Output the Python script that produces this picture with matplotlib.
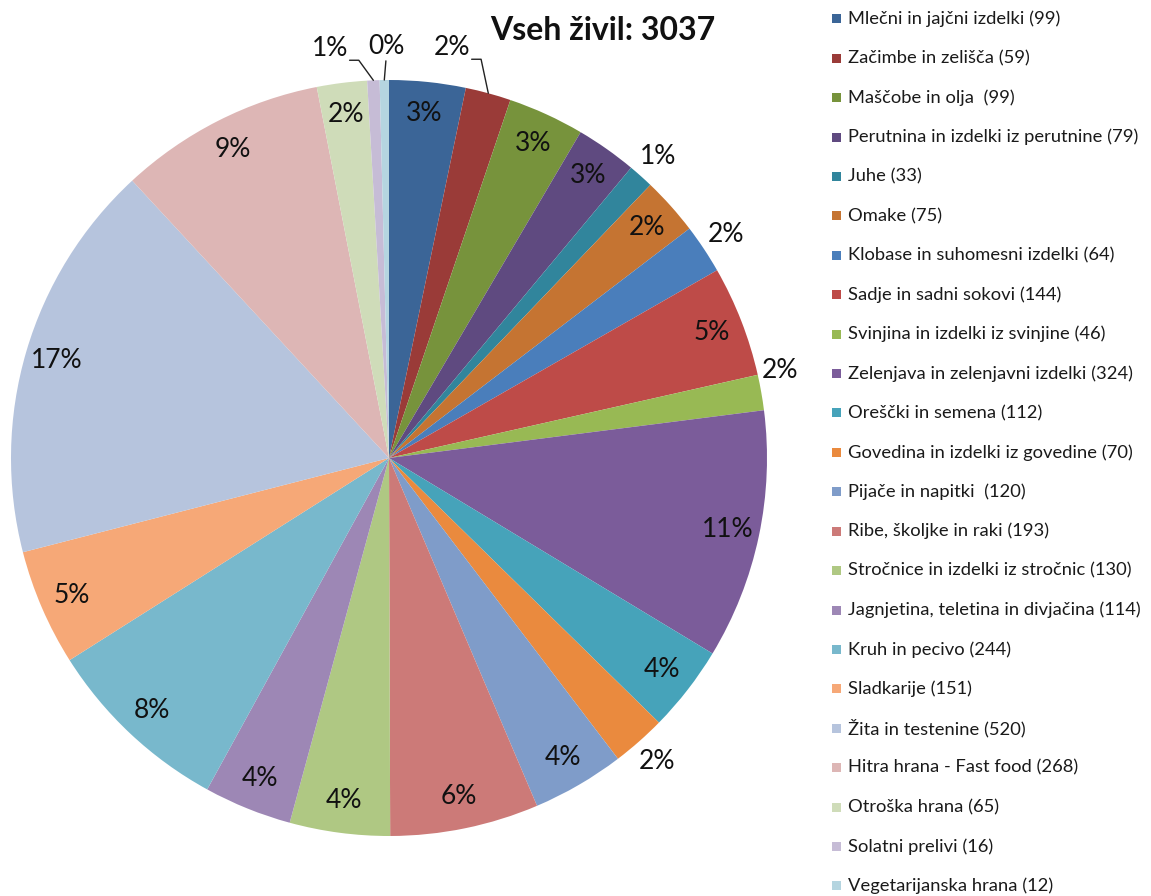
import matplotlib.pyplot as plt
from matplotlib.patches import Rectangle
import numpy as np

plt.rcParams['font.family'] = ['Lato', 'DejaVu Sans']

# food groups and number of foods in each
names = ['Mlečni in jajčni izdelki', 'Začimbe in zelišča', 'Maščobe in olja ',
         'Perutnina in izdelki iz perutnine', 'Juhe', 'Omake',
         'Klobase in suhomesni izdelki', 'Sadje in sadni sokovi',
         'Svinjina in izdelki iz svinjine', 'Zelenjava in zelenjavni izdelki',
         'Oreščki in semena', 'Govedina in izdelki iz govedine',
         'Pijače in napitki ', 'Ribe, školjke in raki',
         'Stročnice in izdelki iz stročnic', 'Jagnjetina, teletina in divjačina',
         'Kruh in pecivo', 'Sladkarije', 'Žita in testenine',
         'Hitra hrana - Fast food', 'Otroška hrana', 'Solatni prelivi',
         'Vegetarijanska hrana']
counts = [99, 59, 99, 79, 33, 75, 64, 144, 46, 324, 112, 70, 120, 193, 130,
          114, 244, 151, 520, 268, 65, 16, 12]
colors = ['#3B6597', '#9A3B38', '#77933C', '#5F4A80', '#31859C', '#C57432',
          '#4A7EBB', '#BE4B48', '#98B954', '#7B5C9A', '#46A3BA', '#EA8A3E',
          '#7F9CC9', '#CC7A78', '#AFC883', '#9D87B5', '#78B8CC', '#F6A877',
          '#B6C4DD', '#DDB6B5', '#CFDCB9', '#C6BCD6', '#B5D5E0']

total = sum(counts)

W, H = 1151, 896
CX, CY, R = 389, 458, 378   # pie centre / radius in pixels

fig = plt.figure(figsize=(W / 100, H / 100), dpi=100)
ax = fig.add_axes([0, 0, 778 / W, 1])
wedges, _ = ax.pie(counts, colors=colors, startangle=90, counterclock=False,
                   wedgeprops=dict(linewidth=0))
ax.set_xlim(-CX / R, (778 - CX) / R)
ax.set_ylim(-(H - CY) / R, CY / R)
ax.set_aspect('equal')


def px(x, y):
    return (x - CX) / R, (CY - y) / R


outside = {4, 6, 8, 11}
moved = {8: (780, 371)}   # excel "best fit" nudged this one
leaders = {
    1: ((452, 48), (1.0, 0.05), 'angle,angleA=0,angleB=102'),
    21: ((330, 49), (1.0, 0.05), 'angle,angleA=0,angleB=126'),
    22: ((386, 47), (0.5, 0.0), 'arc3'),
}

for i, w in enumerate(wedges):
    pct = '%.0f%%' % (100.0 * counts[i] / total)
    ang = np.deg2rad((w.theta1 + w.theta2) / 2)
    if i in leaders:
        pos, rel, cs = leaders[i]
        ax.annotate(pct, xy=(np.cos(ang), np.sin(ang)), xytext=px(*pos),
                    ha='center', va='center', fontsize=19, color='#111111',
                    arrowprops=dict(arrowstyle='-', color='#222222', lw=1.0,
                                    relpos=rel, patchA=None, shrinkA=1,
                                    shrinkB=0, connectionstyle=cs))
        continue
    if i in moved:
        x, y = px(*moved[i])
    else:
        r = 1.07 if i in outside else 0.915
        x, y = r * np.cos(ang), r * np.sin(ang)
    ax.text(x, y, pct, ha='center', va='center', fontsize=19, color='#111111')

fig.text(603 / W, 1 - 31 / H, 'Vseh živil: 3037', ha='center', va='center',
         fontsize=23, fontweight='bold', color='#111111')

# legend
for i, (name, n) in enumerate(zip(names, counts)):
    y = 19 + 39.4 * i
    fig.add_artist(Rectangle((832 / W, 1 - (y + 4.5) / H), 9 / W, 9 / H,
                             facecolor=colors[i], edgecolor='none',
                             transform=fig.transFigure))
    fig.text(848 / W, 1 - y / H, '%s (%d)' % (name, n), ha='left',
             va='center', fontsize=13.2, color='#1a1a1a')

fig.savefig('out.png', dpi=100)
